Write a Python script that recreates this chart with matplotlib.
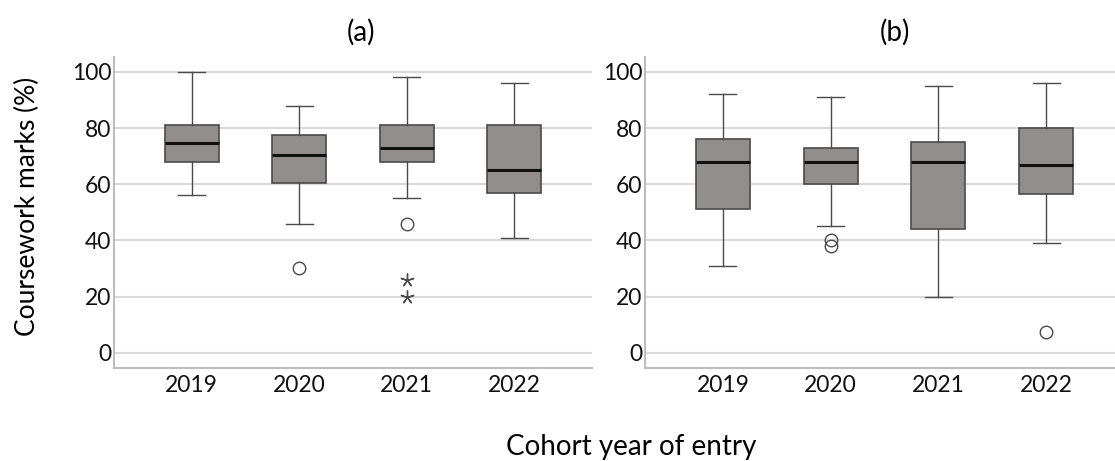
import matplotlib
matplotlib.use("Agg")
import matplotlib.pyplot as plt

plt.rcParams['font.family'] = ['Lato', 'DejaVu Sans']

years = ["2019", "2020", "2021", "2022"]

# panel (a)
a_whislo = [56, 46, 55, 41]
a_q1 = [68, 60.6, 68, 57]
a_med = [74.6, 70.5, 73, 65]
a_q3 = [81, 77.4, 81, 81]
a_whishi = [100, 88, 98, 96]
a_circles = [[], [30], [46], []]
a_stars = [[], [], [26, 20], []]

# panel (b)
b_whislo = [31, 45, 20, 39]
b_q1 = [51, 60, 44, 56.4]
b_med = [68, 68, 68, 67]
b_q3 = [76, 73, 75, 80]
b_whishi = [92, 91, 95, 96.2]
b_circles = [[], [40, 38], [], [7.5]]
b_stars = [[], [], [], []]

BOX = "#918e8d"
EDGE = "#4a4a4a"
GRID = "#d9d9d9"
SPINE = "#bdbdbd"


def make_stats(lo, q1, med, q3, hi, fl):
    out = []
    for i in range(len(lo)):
        out.append(dict(whislo=lo[i], q1=q1[i], med=med[i], q3=q3[i],
                        whishi=hi[i], fliers=fl[i], label=years[i]))
    return out


def draw(ax, stats, stars, right):
    ax.bxp(stats, positions=range(1, 5), widths=0.5, capwidths=0.25,
           showfliers=True, patch_artist=True,
           boxprops=dict(facecolor=BOX, edgecolor=EDGE, linewidth=1.2),
           medianprops=dict(color="#111111", linewidth=2.2),
           whiskerprops=dict(color=EDGE, linewidth=1.0),
           capprops=dict(color=EDGE, linewidth=1.0),
           flierprops=dict(marker="o", markerfacecolor="none",
                           markeredgecolor=EDGE, markersize=9,
                           markeredgewidth=1.0))
    for i, s in enumerate(stars):
        if s:
            ax.plot([i + 1] * len(s), s, linestyle="none", marker=(5, 2, 0),
                    markersize=10, color=EDGE, markeredgewidth=1.0)
    ax.set_xlim(0.277, right)
    ax.set_ylim(-5.45, 105.3)
    ax.set_yticks([0, 20, 40, 60, 80, 100])
    ax.yaxis.grid(True, color=GRID, linewidth=1.5)
    ax.set_axisbelow(True)
    for side in ["top", "right"]:
        ax.spines[side].set_visible(False)
    for side in ["left", "bottom"]:
        ax.spines[side].set_color(SPINE)
        ax.spines[side].set_linewidth(1.5)
    ax.tick_params(axis="both", length=0, labelsize=16.5, colors="#111111")
    ax.tick_params(axis="y", pad=2)
    ax.tick_params(axis="x", pad=5)


fig = plt.figure(figsize=(11.15, 4.61), dpi=100)
ax1 = fig.add_axes([0.1022, 0.2017, 0.531 - 0.1022, 0.8764 - 0.2017])
ax2 = fig.add_axes([0.5785, 0.2017, 1.0 - 0.5785, 0.8764 - 0.2017])

draw(ax1, make_stats(a_whislo, a_q1, a_med, a_q3, a_whishi, a_circles), a_stars, 4.725)
draw(ax2, make_stats(b_whislo, b_q1, b_med, b_q3, b_whishi, b_circles), b_stars, 4.64)

fig.text(361 / 1115, 1 - 32 / 461, "(a)", ha="center", va="center", fontsize=20)
fig.text(895 / 1115, 1 - 32 / 461, "(b)", ha="center", va="center", fontsize=20)
fig.text(27 / 1115, 1 - 206 / 461, "Coursework marks (%)", rotation=90,
         ha="center", va="center", fontsize=19)
fig.text(631 / 1115, 1 - 447 / 461, "Cohort year of entry",
         ha="center", va="center", fontsize=20)

fig.savefig("out.png", dpi=100)
